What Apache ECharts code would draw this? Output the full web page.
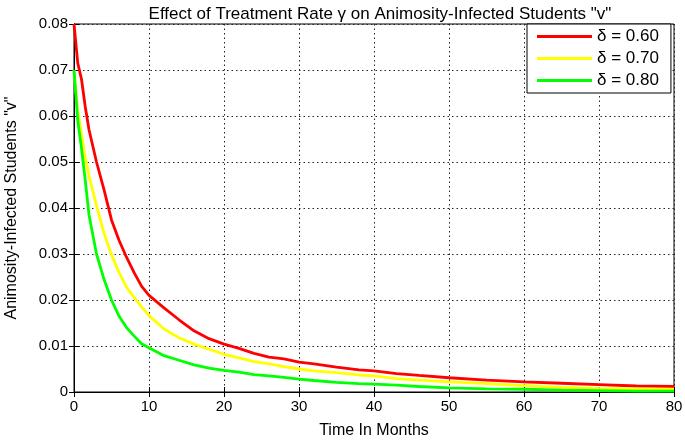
<!DOCTYPE html>
<html><head><meta charset="utf-8">
<script src="https://cdn.jsdelivr.net/npm/echarts@6/dist/echarts.min.js"></script>
<style>html,body{margin:0;padding:0;background:#fff}#c{width:685px;height:444px}</style>
</head><body><div id="c"></div>
<script>
const months = [0,0.5,1,1.5,2,3,4,5,6,7,8,9,10,12,14,16,18,20,22,24,26,28,30,32,35,38,40,43,46,50,55,60,65,70,75,80];
const vDelta060 = [0.080,0.0715,0.068,0.062,0.057,0.050,0.044,0.0374,0.033,0.0293,0.026,0.023,0.021,0.0183,0.0157,0.0133,0.0116,0.0104,0.0095,0.0084,0.0076,0.0072,0.0065,0.0061,0.0054,0.0048,0.0046,0.0040,0.0036,0.0031,0.0026,0.0022,0.0019,0.0016,0.0013,0.0012];
const vDelta070 = [0.070,0.061,0.056,0.051,0.047,0.0405,0.0345,0.0298,0.026,0.0228,0.0206,0.0185,0.0166,0.0137,0.0118,0.0104,0.0093,0.0082,0.0074,0.0066,0.0061,0.0055,0.0050,0.0046,0.0042,0.0037,0.0035,0.0029,0.0026,0.0022,0.0018,0.0014,0.0010,0.0008,0.0007,0.0006];
const vDelta080 = [0.070,0.059,0.053,0.046,0.0385,0.030,0.0245,0.020,0.0165,0.014,0.0122,0.0105,0.0096,0.0079,0.0069,0.0059,0.0052,0.0047,0.0043,0.0038,0.0035,0.0032,0.0028,0.0025,0.0021,0.0018,0.0017,0.0015,0.0012,0.0009,0.0007,0.0006,0.0004,0.0003,0.0002,0.0002];
const seriesNames = ['δ = 0.60','δ = 0.70','δ = 0.80'];
const seriesColors = ['#ff0000','#ffff00','#00ff00'];
const seriesValues = [vDelta060, vDelta070, vDelta080];

const FONT = 'Liberation Sans, Arial, sans-serif';
const chart = echarts.init(document.getElementById('c'));
const gridLine = {show:true, lineStyle:{color:'#222', type:[1.5,3], width:1}};
const tick = {show:true, inside:true, length:5, lineStyle:{color:'#000'}};
chart.setOption({
  animation:false,
  backgroundColor:'#fff',
  title:{text:'Effect of Treatment Rate γ on Animosity-Infected Students "v"', left:375, textAlign:'center', top:1,
    textStyle:{fontFamily:FONT, fontSize:17, fontWeight:'normal', color:'#000'}},
  grid:{left:74, right:11, top:24, bottom:52, outerBoundsMode:'none', containLabel:false, show:true, borderColor:'#000', borderWidth:1, backgroundColor:'transparent'},
  legend:{orient:'vertical', left:527, top:24, padding:[4,12,4,10], itemGap:5, itemWidth:55, itemHeight:3, icon:'rect',
    backgroundColor:'#fff', borderColor:'#000', borderWidth:1,
    textStyle:{fontFamily:FONT, fontSize:17, color:'#000', lineHeight:17},
    data:seriesNames},
  xAxis:[{type:'value', min:0, max:80, interval:10, name:'Time In Months', nameLocation:'middle', nameGap:31,
    nameTextStyle:{fontFamily:FONT, fontSize:16, color:'#000'},
    axisLine:{show:true, lineStyle:{color:'#000'}}, axisTick:tick, splitLine:gridLine,
    axisLabel:{fontFamily:FONT, fontSize:15, color:'#000', margin:7}},
    {type:'value', position:'top', min:0, max:80, interval:10, axisLine:{show:true,lineStyle:{color:'#000'}}, axisTick:tick, axisLabel:{show:false}, splitLine:{show:false}}],
  yAxis:[{type:'value', min:0, max:0.08, interval:0.01, name:'Animosity-Infected Students "v"', nameLocation:'middle', nameGap:54,
    nameTextStyle:{fontFamily:FONT, fontSize:16, color:'#000'},
    axisLine:{show:true, lineStyle:{color:'#000'}}, axisTick:tick, splitLine:gridLine,
    axisLabel:{fontFamily:FONT, fontSize:15, color:'#000', margin:6, formatter:v=> v===0?'0':v.toFixed(2)}},
    {type:'value', position:'right', min:0, max:0.08, interval:0.01, axisLine:{show:true,lineStyle:{color:'#000'}}, axisTick:tick, axisLabel:{show:false}, splitLine:{show:false}}],
  series: seriesNames.map((n,i)=>({name:n, type:'line', showSymbol:false, symbol:'none', smooth:false,
    lineStyle:{color:seriesColors[i], width:2.8}, itemStyle:{color:seriesColors[i]},
    data: months.map((t,j)=>[t, seriesValues[i][j]])}))
});
</script></body></html>
